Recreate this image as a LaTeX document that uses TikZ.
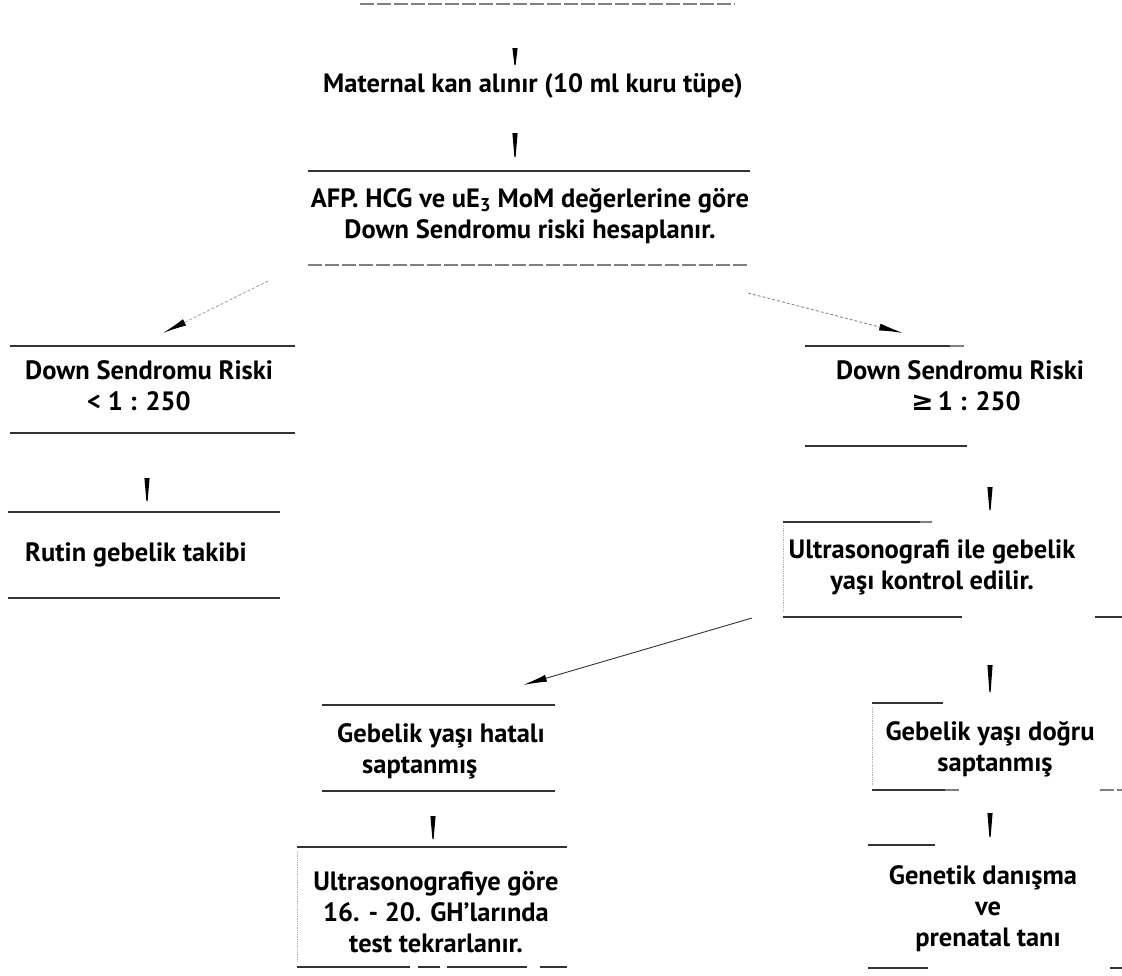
\documentclass[tikz,border=0pt]{standalone}
\usepackage{fontspec}
\setmainfont{PT Sans}
\newfontfamily\symf{DejaVu Sans}
\usetikzlibrary{arrows.meta,calc}
\begin{document}
\begin{tikzpicture}[x=1pt,y=-1pt,
  rule/.style={line width=1.3pt, draw=black!80},
  faint/.style={line width=1.2pt, draw=black!50, dash pattern=on 14pt off 3pt},
  edge/.style={line width=0.8pt, draw=black!30, densely dotted},
  txt/.style={font=\fontsize{26.5}{31}\selectfont\bfseries, inner sep=0pt, align=center},
  wedgefill/.style={fill=black},
  diagarr/.style={line width=0.9pt, -{Latex[length=24pt,width=7pt,color=black]}},
]
\useasboundingbox (0,0) rectangle (1122,975);

% texts
\node[txt] (maternal) at (533,86) {Maternal kan alınır (10 ml kuru tüpe)};
\node[txt] (afp) at (530,216) {AFP. HCG ve uE\textsubscript{3} MoM değerlerine göre\\Down Sendromu riski hesaplanır.};
\node[txt, anchor=west, align=left] (low) at (25,386) {Down Sendromu Riski\\\hspace*{62pt}< 1 : 250};
\node[txt, anchor=west] (rutin) at (25,555) {Rutin gebelik takibi};
\node[txt] (high) at (960,386) {Down Sendromu Riski\\\hspace*{12pt}{\symf ≥}\,1 : 250};
\node[txt] (usg) at (932,567) {Ultrasonografi ile gebelik\\yaşı kontrol edilir.};
\node[txt, anchor=west, align=left] (hatali) at (337,751) {Gebelik yaşı hatalı\\\hspace*{25pt}saptanmış};
\node[txt] (repeat) at (436,912) {Ultrasonografiye göre\\16. - 20. GH'larında\\test tekrarlanır.};
\node[txt] (dogru) at (990,749) {Gebelik yaşı doğru\\\hspace*{10pt}saptanmış};
\node[txt] (genetik) at (983,909) {Genetik danışma\\\hspace*{10pt}ve\\\hspace*{10pt}prenatal tanı};

% rules
\draw[faint] (360,4) -- (735,4);
\draw[rule] (308,171) -- (750,171);
\draw[faint] (308,265) -- (750,265);
\draw[rule] (10,346) -- (295,346);
\draw[rule] (10,433) -- (295,433);
\draw[rule] (8,512) -- (280,512);
\draw[rule] (8,598) -- (280,598);
\draw[rule] (805,346) -- (950,346);
\draw[faint] (950,346) -- (967,346);
\draw[rule] (805,446) -- (967,446);
\draw[rule] (783,522) -- (920,522);
\draw[faint] (920,522) -- (932,522);
\draw[edge] (783,526) -- (783,612);
\draw[rule] (783,617) -- (962,617);
\draw[rule] (1095,617) -- (1122,617);
\draw[rule] (322,705) -- (555,705);
\draw[rule] (322,791) -- (555,791);
\draw[rule] (297,847) -- (567,847);
\draw[edge] (297,851) -- (297,962);
\draw[rule] (297,967) -- (410,967);
\draw[rule] (418,967) -- (440,967);
\draw[rule] (447,967) -- (527,967);
\draw[rule] (540,967) -- (567,967);
\draw[rule] (872,703) -- (943,703);
\draw[edge] (872,707) -- (872,786);
\draw[rule] (872,790) -- (945,790);
\draw[faint] (945,790) -- (960,790);
\draw[faint] (1100,790) -- (1122,790);
\draw[rule] (868,845) -- (935,845);
\draw[rule] (868,968) -- (928,968);
\draw[rule] (1110,968) -- (1122,968);

% wedge connectors
\coordinate (w1a) at (515,48); \coordinate (w1b) at (515,65);
\coordinate (w2a) at (515,133); \coordinate (w2b) at (515,157);
\coordinate (w3a) at (147,478); \coordinate (w3b) at (147,501);
\coordinate (w4a) at (990,487); \coordinate (w4b) at (990,510);
\coordinate (w5a) at (990,665); \coordinate (w5b) at (990,692);
\coordinate (w6a) at (990,813); \coordinate (w6b) at (990,837);
\coordinate (w7a) at (433,816); \coordinate (w7b) at (433,839);
\foreach \w in {w1,w2,w3,w4,w5,w6,w7}
  \fill[wedgefill] ($(\w a)+(-2.6,0)$) -- ($(\w a)+(2.6,0)$) -- ($(\w b)+(0.6,0)$) -- ($(\w b)+(-0.6,0)$) -- cycle;

% diagonal connectors
\coordinate (d1a) at (268,281); \coordinate (d1b) at (163,333);
\coordinate (d2a) at (748,293); \coordinate (d2b) at (903,333);
\coordinate (d3a) at (752,618); \coordinate (d3b) at (523,685);
\draw[diagarr, draw=black!35, densely dashed] (d1a) -- (d1b);
\draw[diagarr, draw=black!45, densely dashed] (d2a) -- (d2b);
\draw[diagarr, draw=black!80] (d3a) -- (d3b);
\end{tikzpicture}
\end{document}
